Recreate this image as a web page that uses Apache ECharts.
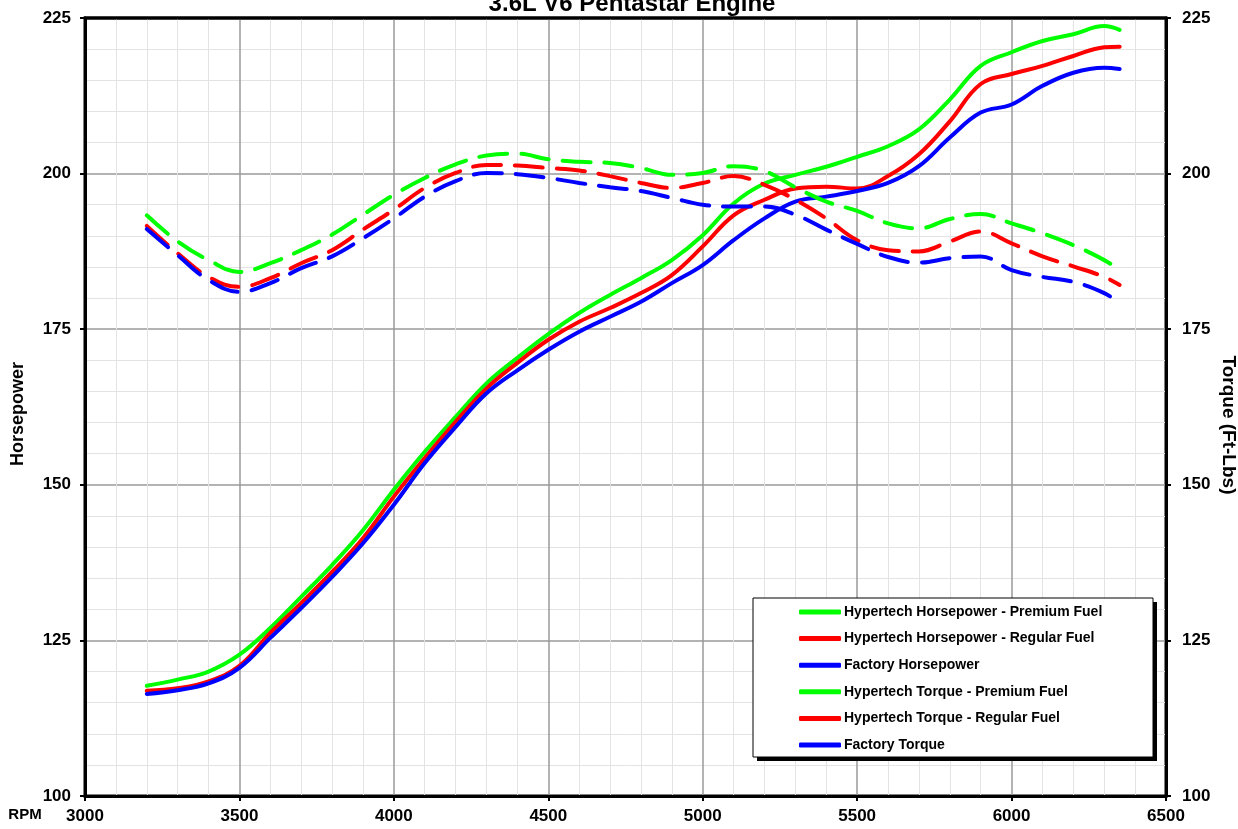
<!DOCTYPE html>
<html>
<head>
<meta charset="utf-8">
<script src="https://cdn.jsdelivr.net/npm/echarts@6/dist/echarts.min.js"></script>
<style>
html,body{margin:0;padding:0;background:#fff;}
#chart{width:1238px;height:829px;}
</style>
</head>
<body>
<div id="chart"></div>
<script>
var rpm = [3200,3300,3400,3500,3600,3700,3800,3900,4000,4100,4200,4300,4400,4500,4600,4700,4800,4900,5000,5100,5200,5300,5400,5500,5600,5700,5800,5900,6000,6100,6200,6300,6350];

var hpPremium = [117.7,118.7,120.0,122.7,127.0,132.0,137.1,142.7,149.2,155.3,160.9,166.3,170.4,174.2,177.6,180.5,183.2,186.1,190.1,195.2,198.4,199.8,201.1,202.7,204.4,207.1,211.9,217.3,219.5,221.3,222.4,223.7,223.1];
var hpRegular = [116.9,117.3,118.4,120.9,126.2,131.0,136.0,141.4,148.1,154.3,160.1,165.5,169.6,173.3,176.2,178.4,180.8,183.7,188.3,193.3,195.8,197.6,197.9,197.6,199.6,203.1,208.4,214.4,216.0,217.3,218.9,220.3,220.4];
var hpFactory = [116.4,117.0,118.1,120.6,125.4,130.2,135.2,140.6,146.8,153.5,159.3,164.7,168.4,171.7,174.6,177.0,179.4,182.4,185.3,189.3,192.8,195.5,196.3,197.2,198.5,201.2,205.8,209.8,211.1,214.1,216.2,217.0,216.8];

var tqPremium = [193.3,189.1,186.1,184.2,185.6,187.7,190.2,193.4,196.6,199.3,201.5,202.9,203.2,202.3,201.9,201.7,200.9,199.8,200.1,201.2,200.4,197.8,195.5,194.0,192.0,191.2,192.7,193.5,192.0,190.4,188.5,186.1,184.5];
var tqRegular = [191.6,187.2,183.4,181.8,183.2,185.6,187.7,191.0,194.2,197.7,200.1,201.4,201.3,200.9,200.5,199.6,198.5,197.7,198.5,199.6,198.2,195.8,192.8,189.3,187.7,187.5,189.1,190.7,188.8,186.7,185.1,183.4,182.1];
var tqFactory = [191.1,186.9,182.9,181.0,182.4,184.8,186.7,189.6,192.8,196.3,198.8,200.1,199.9,199.3,198.5,197.8,197.2,196.1,195.0,194.7,194.7,193.4,191.0,188.7,186.6,185.7,186.4,186.7,184.5,183.4,182.6,180.8,179.1];

var seriesNames = [
  'Hypertech Horsepower - Premium Fuel',
  'Hypertech Horsepower - Regular Fuel',
  'Factory Horsepower',
  'Hypertech Torque - Premium Fuel',
  'Hypertech Torque - Regular Fuel',
  'Factory Torque'
];
var titleText = '3.6L V6 Pentastar Engine';

function pairs(vals){ return rpm.map(function(r,i){ return [r, vals[i]]; }); }

var colors = ['#00ff00','#ff0000','#0000ff','#00ff00','#ff0000','#0000ff'];
var valueSets = [hpPremium,hpRegular,hpFactory,tqPremium,tqRegular,tqFactory];

var series = valueSets.map(function(v,i){
  var torque = i >= 3;
  return {
    name: seriesNames[i],
    type: 'line',
    yAxisIndex: torque ? 1 : 0,
    data: pairs(v),
    smooth: 0.4,
    showSymbol: false,
    symbol: 'none',
    color: colors[i],
    z: 3,
    lineStyle: {
      color: colors[i],
      width: 4,
      type: torque ? [28, 14] : 'solid',
      cap: 'round'
    }
  };
});

var font = 'Arial, "Liberation Sans", sans-serif';
var plain = function(v){ return String(v); };

var chart = echarts.init(document.getElementById('chart'), null, {renderer:'canvas'});
chart.setOption({
  animation: false,
  backgroundColor: '#fff',
  grid: {left: 85, right: 72, top: 18, bottom: 33, show: true, borderColor: '#000', borderWidth: 3, containLabel: false},
  xAxis: {
    type: 'value', min: 3000, max: 6500, interval: 500,
    axisLine: {show: true, lineStyle: {color: '#000', width: 3}},
    axisTick: {show: true, length: 5, inside: false, lineStyle: {color: '#000', width: 2}},
    axisLabel: {color: '#000', fontWeight: 'bold', fontSize: 17, fontFamily: font, margin: 12, formatter: plain},
    splitLine: {show: true, lineStyle: {color: '#9a9a9a', width: 1.5}},
    minorTick: {show: true, splitNumber: 5, length: 0},
    minorSplitLine: {show: true, lineStyle: {color: '#e3e3e3', width: 1}}
  },
  yAxis: [{
    type: 'value', min: 100, max: 225, interval: 25, position: 'left',
    axisLine: {show: true, lineStyle: {color: '#000', width: 3}},
    axisTick: {show: true, length: 5, lineStyle: {color: '#000', width: 2}},
    axisLabel: {color: '#000', fontWeight: 'bold', fontSize: 17, fontFamily: font, margin: 14, formatter: plain},
    splitLine: {show: true, lineStyle: {color: '#9a9a9a', width: 1.5}},
    minorTick: {show: true, splitNumber: 5, length: 0},
    minorSplitLine: {show: true, lineStyle: {color: '#e3e3e3', width: 1}}
  },{
    type: 'value', min: 100, max: 225, interval: 25, position: 'right',
    axisLine: {show: true, lineStyle: {color: '#000', width: 3}},
    axisTick: {show: true, length: 5, lineStyle: {color: '#000', width: 2}},
    axisLabel: {color: '#000', fontWeight: 'bold', fontSize: 17, fontFamily: font, margin: 16, formatter: plain},
    splitLine: {show: false}
  }],
  legend: {
    orient: 'vertical',
    left: 799, top: 605,
    padding: 0,
    itemGap: 12.6,
    itemWidth: 42, itemHeight: 5,
    icon: 'roundRect',
    z: 20,
    data: seriesNames,
    textStyle: {color: '#000', fontWeight: 'bold', fontSize: 14, fontFamily: font, lineHeight: 14, padding: [0,0,0,-2]}
  },
  graphic: [
    {type: 'line', z: 9, shape: {x1: 84, y1: 18, x2: 1167, y2: 18}, style: {stroke: '#000', lineWidth: 3}},
    {type: 'rect', z: 10, shape: {x: 757, y: 602, width: 400, height: 159}, style: {fill: '#000'}},
    {type: 'rect', z: 11, shape: {x: 753, y: 598, width: 400, height: 159}, style: {fill: '#fff', stroke: '#000', lineWidth: 1}},
    {type: 'text', z: 12, x: 632, y: 4, style: {text: titleText, fill: '#000', font: 'bold 24px ' + font, textAlign: 'center', textVerticalAlign: 'middle'}},
    {type: 'text', z: 12, x: 18, y: 414, rotation: Math.PI/2, style: {text: 'Horsepower', fill: '#000', font: 'bold 18px ' + font, textAlign: 'center', textVerticalAlign: 'middle'}},
    {type: 'text', z: 12, x: 1228, y: 425, rotation: -Math.PI/2, style: {text: 'Torque (Ft-Lbs)', fill: '#000', font: 'bold 19px ' + font, textAlign: 'center', textVerticalAlign: 'middle'}},
    {type: 'text', z: 12, x: 25, y: 815, style: {text: 'RPM', fill: '#000', font: 'bold 15px ' + font, textAlign: 'center', textVerticalAlign: 'middle'}}
  ],
  series: series
});
</script>
</body>
</html>
